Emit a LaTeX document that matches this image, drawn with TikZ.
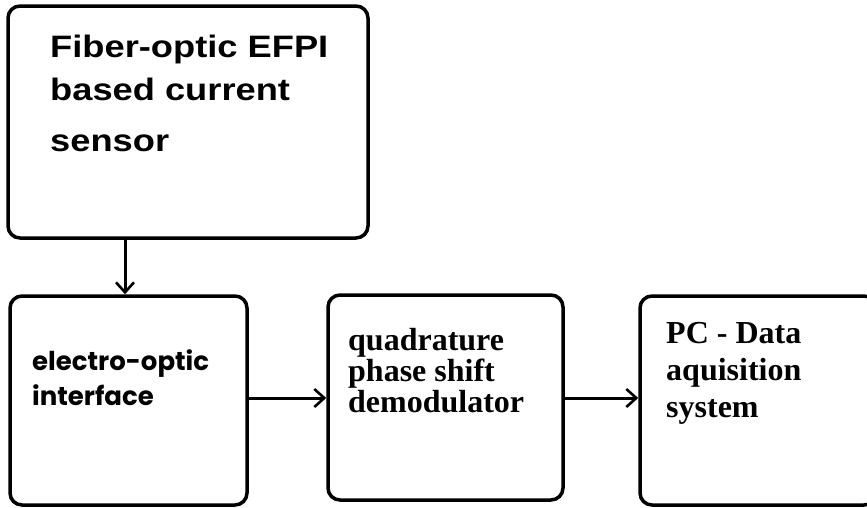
\documentclass[tikz,border=0pt]{standalone}
\usepackage{fontspec}
\usetikzlibrary{arrows.meta}
\newfontfamily\topfont{Liberation Sans}[FakeStretch=1.17]
\newfontfamily\gothfont{Poppins}
\newfontfamily\serffont{Liberation Serif}
\begin{document}
\begin{tikzpicture}[x=1pt,y=-1pt,
  box/.style={draw=black,line width=3.5pt,rounded corners=12pt,inner sep=0pt,fill=none},
  conn/.style={line width=3pt,-{Straight Barb[length=10pt,width=18pt,line width=2.6pt]}},
  ttop/.style={anchor=base west,inner sep=0pt,font=\topfont\bfseries\fontsize{31}{33}\selectfont},
  tgoth/.style={anchor=base west,inner sep=0pt,font=\gothfont\bfseries\fontsize{26}{28}\selectfont},
  tserf/.style={anchor=base west,inner sep=0pt,font=\serffont\bfseries\fontsize{32}{34}\selectfont}]
\fill[white] (0,0) rectangle (867,507);
\useasboundingbox (0,0) rectangle (867,507);
% boxes
\node[box,minimum width=360pt,minimum height=232pt] (A) at (188,122) {};
\node[box,minimum width=237pt,minimum height=209pt] (B) at (128.5,400.5) {};
\node[box,minimum width=235pt,minimum height=205pt] (C) at (445.5,397.5) {};
\node[box,minimum width=236pt,minimum height=209pt] (D) at (758,400.5) {};
% texts
\node[ttop] (a1) at (50,57) {Fiber-optic EFPI};
\node[ttop] (a2) at (50,100) {based current};
\node[ttop] (a3) at (50,151) {sensor};
\node[tgoth] (b1) at (32,370) {electro-optic};
\node[tgoth] (b2) at (32,405) {interface};
\node[tserf] (c1) at (348,350) {quadrature};
\node[tserf] (c2) at (348,381) {phase shift};
\node[tserf] (c3) at (348,412) {demodulator};
\node[tserf] (d1) at (666,343) {PC - Data};
\node[tserf] (d2) at (666,380) {aquisition};
\node[tserf] (d3) at (666,417) {system};
% connectors
\coordinate (ax) at (125,0);
\coordinate (ay) at (0,398);
\draw[conn] (A.south -| ax) -- (B.north -| ax);
\draw[conn] (B.east |- ay) -- (C.west |- ay);
\draw[conn] (C.east |- ay) -- (D.west |- ay);
\end{tikzpicture}
\end{document}
